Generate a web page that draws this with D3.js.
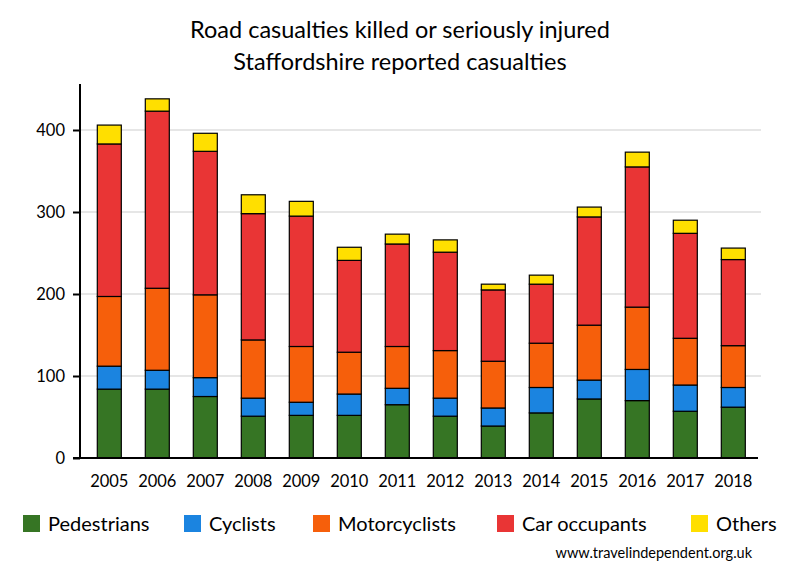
<!DOCTYPE html>
<html>
<head>
<meta charset="utf-8">
<script src="https://cdn.jsdelivr.net/npm/d3@7"></script>
<style>
  body { margin: 0; background: #fff; }
  svg { display: block; font-family: Lato, "Open Sans", sans-serif; }
</style>
</head>
<body>
<svg id="chart" width="800" height="580"></svg>
<script>
const years = ["2005","2006","2007","2008","2009","2010","2011","2012","2013","2014","2015","2016","2017","2018"];
const pedestrians   = [84, 84, 75, 51, 52, 52, 65, 51, 39, 55, 72, 70, 57, 62];
const cyclists      = [28, 23, 23, 22, 16, 26, 20, 22, 22, 31, 23, 38, 32, 24];
const motorcyclists = [85, 100, 101, 71, 68, 51, 51, 58, 57, 54, 67, 76, 57, 51];
const carOccupants  = [186, 216, 175, 154, 159, 112, 125, 120, 87, 72, 132, 171, 128, 105];
const others        = [23, 15, 22, 23, 18, 16, 12, 15, 7, 11, 12, 18, 16, 14];
const seriesNames = ["Pedestrians", "Cyclists", "Motorcyclists", "Car occupants", "Others"];
const seriesColors = ["#367524", "#1B84E0", "#F65F0B", "#E93535", "#FFDF00"];
const yTicks = [0, 100, 200, 300, 400];

const seriesValues = [pedestrians, cyclists, motorcyclists, carOccupants, others];
const table = years.map((y, i) => {
  const row = { year: y };
  seriesNames.forEach((n, k) => row[n] = seriesValues[k][i]);
  return row;
});

const svg = d3.select("#chart");

const x = d3.scaleBand().domain(years).range([85.3, 757.3]).paddingInner(0.5).paddingOuter(0.25);
const y = d3.scaleLinear().domain([0, 400]).range([458, 130]);

// gridlines
svg.append("g").selectAll("line").data(yTicks.filter(d => d > 0)).join("line")
  .attr("x1", 81).attr("x2", 761)
  .attr("y1", d => y(d)).attr("y2", d => y(d))
  .attr("stroke", "#e6e6e6").attr("stroke-width", 2);

// stacked bars
const stack = d3.stack().keys(seriesNames)(table);
svg.append("g").selectAll("g").data(stack).join("g")
  .attr("fill", (d, i) => seriesColors[i])
  .selectAll("rect").data(d => d).join("rect")
  .attr("x", d => x(d.data.year))
  .attr("width", x.bandwidth())
  .attr("y", d => y(d[1]))
  .attr("height", d => y(d[0]) - y(d[1]))
  .attr("stroke", "#000").attr("stroke-width", 1.2);

// y axis
const yAxis = svg.append("g").attr("transform", "translate(80,0)")
  .call(d3.axisLeft(y).tickValues(yTicks).tickSize(7).tickPadding(8).tickFormat(d3.format("d")));
yAxis.select(".domain").remove();
yAxis.selectAll(".tick line").attr("stroke", "#000").attr("stroke-width", 2);
yAxis.selectAll(".tick text").attr("font-size", 16.5).attr("fill", "#000").attr("font-family", "Lato, sans-serif");
svg.append("line").attr("x1", 80).attr("x2", 80).attr("y1", 84).attr("y2", 459)
  .attr("stroke", "#000").attr("stroke-width", 2);

// x axis
const xAxis = svg.append("g").attr("transform", "translate(0,458)")
  .call(d3.axisBottom(x).tickSize(0).tickPadding(17));
xAxis.select(".domain").remove();
xAxis.selectAll(".tick text").attr("font-size", 16.5).attr("fill", "#000").attr("font-family", "Lato, sans-serif");
svg.append("line").attr("x1", 73).attr("x2", 758).attr("y1", 458).attr("y2", 458)
  .attr("stroke", "#000").attr("stroke-width", 2);

// title
svg.append("text").attr("x", 400).attr("y", 38).attr("text-anchor", "middle")
  .attr("font-size", 23.5).attr("fill", "#000").text("Road casualties killed or seriously injured");
svg.append("text").attr("x", 400).attr("y", 70).attr("text-anchor", "middle")
  .attr("font-size", 23.5).attr("fill", "#000").text("Staffordshire reported casualties");

// legend
const legendX = [23, 184, 313, 497, 691];
const lg = svg.append("g").selectAll("g").data(seriesNames).join("g")
  .attr("transform", (d, i) => `translate(${legendX[i]},515)`);
lg.append("rect").attr("width", 17).attr("height", 17).attr("fill", (d, i) => seriesColors[i]);
lg.append("text").attr("x", 25).attr("y", 15.5).attr("font-size", 20).attr("fill", "#000").text(d => d);

// watermark
svg.append("text").attr("x", 752).attr("y", 558).attr("text-anchor", "end")
  .attr("font-size", 14.5).attr("fill", "#000").text("www.travelindependent.org.uk");
</script>
</body>
</html>
